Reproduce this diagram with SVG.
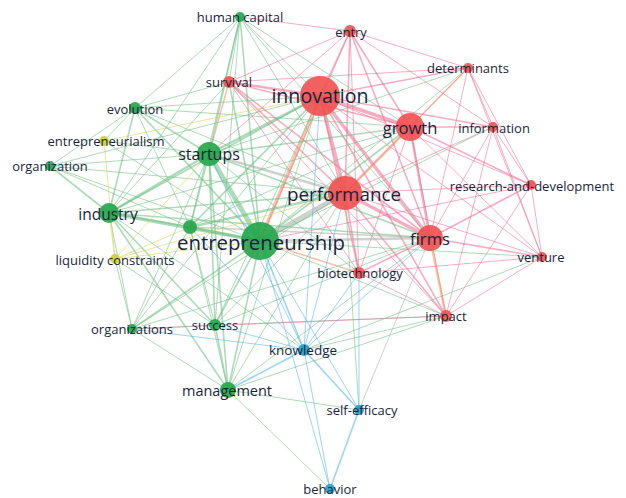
<svg xmlns="http://www.w3.org/2000/svg" width="626" height="498" viewBox="0 0 626 498">
<style>
line{stroke-linecap:round;stroke-opacity:.55}
.r{stroke:#f06c90}.g{stroke:#6cbe80}.b{stroke:#4fb0e8}.y{stroke:#d4d450}.x{stroke:#a8aca4}.o{stroke:#f09460}
.w1{stroke-width:1}.w2{stroke-width:1.6}.w3{stroke-width:2.5}.w4{stroke-width:3.5}.w5{stroke-width:5}
.nr{fill:#f0504f;fill-opacity:.9}.ng{fill:#22a548;fill-opacity:.9}.nb{fill:#1fa0c6;fill-opacity:.9}.ny{fill:#cfcf30;fill-opacity:.9}
text{font-family:"Open Sans","Noto Sans",sans-serif;fill:#1a1f3c;text-anchor:middle;dominant-baseline:central;font-size:13px}
</style>
<rect width="626" height="498" fill="#fff"/>
<g id="connectors">
<line class="r w4" x1="320" y1="96" x2="345" y2="193"/>
<line class="r w4" x1="320" y1="96" x2="410" y2="127"/>
<line class="r w4" x1="320" y1="96" x2="430" y2="238"/>
<line class="r w2" x1="320" y1="96" x2="350" y2="31"/>
<line class="r w2" x1="320" y1="96" x2="468" y2="68"/>
<line class="r w3" x1="320" y1="96" x2="229" y2="82"/>
<line class="r w2" x1="320" y1="96" x2="493" y2="127"/>
<line class="r w1" x1="320" y1="96" x2="531" y2="185"/>
<line class="r w2" x1="320" y1="96" x2="359" y2="273"/>
<line class="r w2" x1="320" y1="96" x2="446" y2="316"/>
<line class="r w1" x1="320" y1="96" x2="542" y2="257"/>
<line class="o w3" x1="345" y1="193" x2="410" y2="127"/>
<line class="r w4" x1="345" y1="193" x2="430" y2="238"/>
<line class="r w2" x1="345" y1="193" x2="350" y2="31"/>
<line class="r w1" x1="345" y1="193" x2="468" y2="68"/>
<line class="r w2" x1="345" y1="193" x2="229" y2="82"/>
<line class="r w1" x1="345" y1="193" x2="493" y2="127"/>
<line class="r w1" x1="345" y1="193" x2="531" y2="185"/>
<line class="r w2" x1="345" y1="193" x2="359" y2="273"/>
<line class="r w2" x1="345" y1="193" x2="446" y2="316"/>
<line class="r w1" x1="345" y1="193" x2="542" y2="257"/>
<line class="r w3" x1="410" y1="127" x2="430" y2="238"/>
<line class="r w2" x1="410" y1="127" x2="350" y2="31"/>
<line class="o w2" x1="410" y1="127" x2="468" y2="68"/>
<line class="r w2" x1="410" y1="127" x2="493" y2="127"/>
<line class="r w2" x1="410" y1="127" x2="531" y2="185"/>
<line class="r w2" x1="410" y1="127" x2="229" y2="82"/>
<line class="r w1" x1="410" y1="127" x2="359" y2="273"/>
<line class="r w1" x1="410" y1="127" x2="446" y2="316"/>
<line class="r w1" x1="410" y1="127" x2="542" y2="257"/>
<line class="r w2" x1="430" y1="238" x2="350" y2="31"/>
<line class="r w1" x1="430" y1="238" x2="468" y2="68"/>
<line class="r w1" x1="430" y1="238" x2="493" y2="127"/>
<line class="r w2" x1="430" y1="238" x2="531" y2="185"/>
<line class="r w2" x1="430" y1="238" x2="542" y2="257"/>
<line class="r w2" x1="430" y1="238" x2="359" y2="273"/>
<line class="o w3" x1="430" y1="238" x2="446" y2="316"/>
<line class="r w2" x1="430" y1="238" x2="229" y2="82"/>
<line class="r w1" x1="350" y1="31" x2="468" y2="68"/>
<line class="r w1" x1="350" y1="31" x2="493" y2="127"/>
<line class="r w1" x1="350" y1="31" x2="229" y2="82"/>
<line class="r w1" x1="468" y1="68" x2="493" y2="127"/>
<line class="r w1" x1="468" y1="68" x2="531" y2="185"/>
<line class="r w1" x1="468" y1="68" x2="542" y2="257"/>
<line class="r w1" x1="493" y1="127" x2="531" y2="185"/>
<line class="r w1" x1="493" y1="127" x2="542" y2="257"/>
<line class="r w1" x1="493" y1="127" x2="446" y2="316"/>
<line class="r w1" x1="531" y1="185" x2="542" y2="257"/>
<line class="r w1" x1="531" y1="185" x2="446" y2="316"/>
<line class="r w1" x1="542" y1="257" x2="446" y2="316"/>
<line class="r w1" x1="359" y1="273" x2="446" y2="316"/>
<line class="r w1" x1="229" y1="82" x2="359" y2="273"/>
<line class="r w1" x1="350" y1="31" x2="359" y2="273"/>
<line class="r w1" x1="229" y1="82" x2="446" y2="316"/>
<line class="r w1" x1="468" y1="68" x2="229" y2="82"/>
<line class="r w1" x1="359" y1="273" x2="542" y2="257"/>
<line class="x w5" x1="260" y1="241" x2="345" y2="193"/>
<line class="o w4" x1="260" y1="241" x2="320" y2="96"/>
<line class="g w2" x1="260" y1="241" x2="410" y2="127"/>
<line class="x w3" x1="260" y1="241" x2="430" y2="238"/>
<line class="g w2" x1="260" y1="241" x2="229" y2="82"/>
<line class="r w1" x1="260" y1="241" x2="350" y2="31"/>
<line class="g w1" x1="260" y1="241" x2="468" y2="68"/>
<line class="o w2" x1="260" y1="241" x2="359" y2="273"/>
<line class="g w1" x1="260" y1="241" x2="446" y2="316"/>
<line class="g w1" x1="260" y1="241" x2="493" y2="127"/>
<line class="r w1" x1="260" y1="241" x2="531" y2="185"/>
<line class="g w1" x1="260" y1="241" x2="542" y2="257"/>
<line class="g w3" x1="209" y1="154" x2="320" y2="96"/>
<line class="x w3" x1="209" y1="154" x2="345" y2="193"/>
<line class="g w2" x1="209" y1="154" x2="410" y2="127"/>
<line class="g w2" x1="209" y1="154" x2="430" y2="238"/>
<line class="o w2" x1="209" y1="154" x2="229" y2="82"/>
<line class="r w1" x1="209" y1="154" x2="350" y2="31"/>
<line class="g w1" x1="209" y1="154" x2="468" y2="68"/>
<line class="g w1" x1="209" y1="154" x2="359" y2="273"/>
<line class="g w2" x1="109" y1="213" x2="320" y2="96"/>
<line class="g w2" x1="109" y1="213" x2="345" y2="193"/>
<line class="g w1" x1="109" y1="213" x2="410" y2="127"/>
<line class="g w2" x1="109" y1="213" x2="430" y2="238"/>
<line class="g w1" x1="109" y1="213" x2="229" y2="82"/>
<line class="g w2" x1="190" y1="227" x2="320" y2="96"/>
<line class="g w3" x1="190" y1="227" x2="345" y2="193"/>
<line class="x w2" x1="190" y1="227" x2="430" y2="238"/>
<line class="g w1" x1="190" y1="227" x2="410" y2="127"/>
<line class="g w1" x1="240" y1="17" x2="320" y2="96"/>
<line class="g w1" x1="240" y1="17" x2="345" y2="193"/>
<line class="g w1" x1="240" y1="17" x2="410" y2="127"/>
<line class="g w1" x1="240" y1="17" x2="229" y2="82"/>
<line class="g w1" x1="240" y1="17" x2="430" y2="238"/>
<line class="r w1" x1="240" y1="17" x2="350" y2="31"/>
<line class="g w1" x1="135" y1="108" x2="320" y2="96"/>
<line class="g w1" x1="135" y1="108" x2="229" y2="82"/>
<line class="g w1" x1="135" y1="108" x2="345" y2="193"/>
<line class="g w1" x1="135" y1="108" x2="410" y2="127"/>
<line class="g w1" x1="215" y1="325" x2="345" y2="193"/>
<line class="g w1" x1="215" y1="325" x2="320" y2="96"/>
<line class="g w1" x1="215" y1="325" x2="430" y2="238"/>
<line class="g w1" x1="215" y1="325" x2="446" y2="316"/>
<line class="g w1" x1="228" y1="390" x2="345" y2="193"/>
<line class="g w1" x1="228" y1="390" x2="320" y2="96"/>
<line class="g w1" x1="228" y1="390" x2="430" y2="238"/>
<line class="g w1" x1="228" y1="390" x2="446" y2="316"/>
<line class="g w1" x1="132" y1="329" x2="345" y2="193"/>
<line class="g w1" x1="132" y1="329" x2="430" y2="238"/>
<line class="g w1" x1="132" y1="329" x2="320" y2="96"/>
<line class="g w1" x1="50" y1="166" x2="320" y2="96"/>
<line class="g w1" x1="50" y1="166" x2="345" y2="193"/>
<line class="r w1" x1="132" y1="329" x2="446" y2="316"/>
<line class="g w5" x1="260" y1="241" x2="209" y2="154"/>
<line class="g w4" x1="260" y1="241" x2="109" y2="213"/>
<line class="g w3" x1="260" y1="241" x2="190" y2="227"/>
<line class="g w2" x1="260" y1="241" x2="240" y2="17"/>
<line class="g w2" x1="260" y1="241" x2="135" y2="108"/>
<line class="g w1" x1="260" y1="241" x2="50" y2="166"/>
<line class="g w2" x1="260" y1="241" x2="215" y2="325"/>
<line class="g w2" x1="260" y1="241" x2="228" y2="390"/>
<line class="g w2" x1="260" y1="241" x2="132" y2="329"/>
<line class="g w3" x1="209" y1="154" x2="109" y2="213"/>
<line class="g w2" x1="209" y1="154" x2="190" y2="227"/>
<line class="g w2" x1="209" y1="154" x2="240" y2="17"/>
<line class="g w2" x1="209" y1="154" x2="135" y2="108"/>
<line class="g w1" x1="209" y1="154" x2="50" y2="166"/>
<line class="g w2" x1="209" y1="154" x2="215" y2="325"/>
<line class="g w2" x1="209" y1="154" x2="228" y2="390"/>
<line class="g w1" x1="209" y1="154" x2="132" y2="329"/>
<line class="g w2" x1="109" y1="213" x2="190" y2="227"/>
<line class="g w2" x1="109" y1="213" x2="135" y2="108"/>
<line class="g w2" x1="109" y1="213" x2="50" y2="166"/>
<line class="g w1" x1="109" y1="213" x2="240" y2="17"/>
<line class="g w2" x1="109" y1="213" x2="215" y2="325"/>
<line class="g w2" x1="109" y1="213" x2="228" y2="390"/>
<line class="g w1" x1="109" y1="213" x2="132" y2="329"/>
<line class="g w1" x1="190" y1="227" x2="215" y2="325"/>
<line class="g w1" x1="190" y1="227" x2="228" y2="390"/>
<line class="g w1" x1="190" y1="227" x2="240" y2="17"/>
<line class="g w1" x1="135" y1="108" x2="50" y2="166"/>
<line class="g w1" x1="135" y1="108" x2="240" y2="17"/>
<line class="g w1" x1="135" y1="108" x2="190" y2="227"/>
<line class="g w2" x1="215" y1="325" x2="228" y2="390"/>
<line class="g w1" x1="215" y1="325" x2="132" y2="329"/>
<line class="g w1" x1="132" y1="329" x2="228" y2="390"/>
<line class="g w1" x1="240" y1="17" x2="215" y2="325"/>
<line class="g w1" x1="190" y1="227" x2="132" y2="329"/>
<line class="g w1" x1="50" y1="166" x2="190" y2="227"/>
<line class="y w1" x1="104" y1="141" x2="115" y2="259"/>
<line class="g w1" x1="104" y1="141" x2="135" y2="108"/>
<line class="g w1" x1="104" y1="141" x2="209" y2="154"/>
<line class="g w1" x1="104" y1="141" x2="260" y2="241"/>
<line class="y w1" x1="104" y1="141" x2="320" y2="96"/>
<line class="y w1" x1="115" y1="259" x2="109" y2="213"/>
<line class="y w1" x1="115" y1="259" x2="260" y2="241"/>
<line class="y w1" x1="115" y1="259" x2="209" y2="154"/>
<line class="g w1" x1="115" y1="259" x2="132" y2="329"/>
<line class="y w1" x1="115" y1="259" x2="190" y2="227"/>
<line class="y w1" x1="115" y1="259" x2="345" y2="193"/>
<line class="g w1" x1="115" y1="259" x2="215" y2="325"/>
<line class="b w2" x1="304" y1="350" x2="359" y2="410"/>
<line class="b w1" x1="304" y1="350" x2="330" y2="489"/>
<line class="b w2" x1="359" y1="410" x2="330" y2="489"/>
<line class="b w2" x1="304" y1="350" x2="260" y2="241"/>
<line class="b w1" x1="304" y1="350" x2="209" y2="154"/>
<line class="g w1" x1="304" y1="350" x2="109" y2="213"/>
<line class="b w1" x1="304" y1="350" x2="215" y2="325"/>
<line class="b w2" x1="304" y1="350" x2="228" y2="390"/>
<line class="b w1" x1="304" y1="350" x2="345" y2="193"/>
<line class="b w1" x1="304" y1="350" x2="430" y2="238"/>
<line class="b w1" x1="304" y1="350" x2="359" y2="273"/>
<line class="g w1" x1="304" y1="350" x2="446" y2="316"/>
<line class="b w1" x1="304" y1="350" x2="320" y2="96"/>
<line class="b w1" x1="304" y1="350" x2="132" y2="329"/>
<line class="b w1" x1="304" y1="350" x2="190" y2="227"/>
<line class="b w1" x1="359" y1="410" x2="260" y2="241"/>
<line class="g w1" x1="359" y1="410" x2="345" y2="193"/>
<line class="b w1" x1="359" y1="410" x2="359" y2="273"/>
<line class="x w1" x1="359" y1="410" x2="430" y2="238"/>
<line class="g w1" x1="359" y1="410" x2="228" y2="390"/>
<line class="g w1" x1="330" y1="489" x2="228" y2="390"/>
<line class="b w1" x1="330" y1="489" x2="260" y2="241"/>
<line class="g w1" x1="304" y1="350" x2="542" y2="257"/>
</g>
<g id="nodes">
<g id="n-human-capital"><circle class="ng" cx="240" cy="17" r="5"/><text x="240" y="17">human capital</text></g>
<g id="n-entry"><circle class="nr" cx="350" cy="31" r="6"/><text x="351" y="32">entry</text></g>
<g id="n-determinants"><circle class="nr" cx="468" cy="68" r="5"/><text x="468" y="68">determinants</text></g>
<g id="n-survival"><circle class="nr" cx="229" cy="82" r="6"/><text x="229" y="82">survival</text></g>
<g id="n-innovation"><circle class="nr" cx="320" cy="96" r="20"/><text x="320" y="95" style="font-size:19.6px">innovation</text></g>
<g id="n-growth"><circle class="nr" cx="410" cy="127" r="14"/><text x="410" y="127" style="font-size:16.6px">growth</text></g>
<g id="n-information"><circle class="nr" cx="493" cy="127" r="5"/><text x="494" y="128">information</text></g>
<g id="n-evolution"><circle class="ng" cx="135" cy="108" r="6"/><text x="135" y="109">evolution</text></g>
<g id="n-entrepreneurialism"><circle class="ny" cx="104" cy="141" r="5"/><text x="106" y="141">entrepreneurialism</text></g>
<g id="n-startups"><circle class="ng" cx="209" cy="154" r="12"/><text x="209" y="154" style="font-size:16px">startups</text></g>
<g id="n-organization"><circle class="ng" cx="50" cy="166" r="5"/><text x="50" y="166">organization</text></g>
<g id="n-performance"><circle class="nr" cx="345" cy="193" r="17"/><text x="344" y="194" style="font-size:18.8px">performance</text></g>
<g id="n-research-and-development"><circle class="nr" cx="531" cy="185" r="5"/><text x="532" y="186">research-and-development</text></g>
<g id="n-industry"><circle class="ng" cx="109" cy="213" r="10"/><text x="108" y="214" style="font-size:15.5px">industry</text></g>
<g id="n-unlabeled"><circle class="ng" cx="190" cy="227" r="7"/></g>
<g id="n-entrepreneurship"><circle class="ng" cx="260" cy="241" r="19"/><text x="261" y="242" style="font-size:20.4px">entrepreneurship</text></g>
<g id="n-firms"><circle class="nr" cx="430" cy="238" r="13"/><text x="430" y="238" style="font-size:16.6px">firms</text></g>
<g id="n-liquidity-constraints"><circle class="ny" cx="115" cy="259" r="5"/><text x="115" y="260">liquidity constraints</text></g>
<g id="n-venture"><circle class="nr" cx="542" cy="257" r="5"/><text x="541" y="257">venture</text></g>
<g id="n-biotechnology"><circle class="nr" cx="359" cy="273" r="6"/><text x="360" y="273">biotechnology</text></g>
<g id="n-organizations"><circle class="ng" cx="132" cy="329" r="5"/><text x="132" y="329">organizations</text></g>
<g id="n-success"><circle class="ng" cx="215" cy="325" r="6"/><text x="215" y="325">success</text></g>
<g id="n-impact"><circle class="nr" cx="446" cy="316" r="6"/><text x="446" y="316">impact</text></g>
<g id="n-knowledge"><circle class="nb" cx="304" cy="350" r="6"/><text x="303" y="350" style="font-size:13.5px">knowledge</text></g>
<g id="n-management"><circle class="ng" cx="228" cy="390" r="8"/><text x="227" y="390" style="font-size:14.5px">management</text></g>
<g id="n-self-efficacy"><circle class="nb" cx="359" cy="410" r="5"/><text x="362" y="410">self-efficacy</text></g>
<g id="n-behavior"><circle class="nb" cx="330" cy="489" r="5"/><text x="330" y="489">behavior</text></g>
</g>
</svg>
